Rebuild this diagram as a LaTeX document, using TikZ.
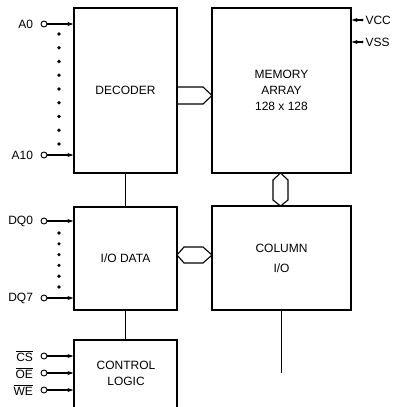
\documentclass[tikz,border=0pt]{standalone}
\usepackage{fontspec}
\setmainfont{Liberation Sans}
\usetikzlibrary{arrows.meta, positioning}

\tikzset{
	blk/.style = {draw, inner sep=0pt, align=center},
	pinc/.style = {draw, circle, inner sep=0pt, minimum size=6pt, line width=0.9pt},
	lbl/.style = {inner sep=0pt},
}

\begin{document}
\begin{tikzpicture}[> = {Stealth[length=6pt, width=4pt]}, x=1pt, y=-1pt, line width=1.1pt,
		font=\fontsize{12}{16}\selectfont]
	\useasboundingbox (0,0) rectangle (394,407);
	
	% blocks
	\node [blk, minimum width=103, minimum height=165] (dec) at (125.5,90.5) {DECODER};
	\node [blk, minimum width=139, minimum height=165] (mem) at (281.5,90.5)
	{MEMORY\\ARRAY\\128 x 128};
	\node [blk, minimum width=103, minimum height=103] (io) at (125.5,258.5) {I/O DATA};
	\node [blk, minimum width=139, minimum height=104] (col) at (281.5,258)
	{COLUMN\\[4pt]I/O};
	
	\draw (74,407) |- (177,340) -- (177,407);
	\node [align=center] (ctl) at (126,373) {CONTROL\\LOGIC};
	\coordinate (ctltop) at (125.5,340);
	\coordinate (colend) at (281.5,373);
	
	\draw (dec.south) -- (io.north);
	\draw (io.south) -- (ctltop);
	\draw (col.south) -- (colend);
	
	% buses
	\draw (177,87) -- (203,87) -- (212,95.5) -- (203,104) -- (177,104);
	\draw (280.5,173) -- (288,180) -- (288,200) -- (280.5,206) -- (273,200) -- (273,180) -- cycle;
	\draw (177,255) -- (184,247) -- (203,247) -- (212,255) -- (203,263) -- (184,263) -- cycle;
	
	% pins
	\foreach \nm/\txt/\y in {a0/A0/24, a10/A10/155, dq0/DQ0/221, dq7/DQ7/298,
		cs/$\overline{\mbox{CS}}$/356, oe/$\overline{\mbox{OE}}$/373, we/$\overline{\mbox{WE}}$/390}{
		\node [pinc] (p\nm) at (44,\y) {};
		\node [lbl, left=7pt of p\nm] {\txt};
		\draw [->] (p\nm) -- (p\nm -| dec.west);
	}
	\foreach \k in {0,...,8} \fill (59,34+13.75*\k) circle [radius=1.8pt];
	\foreach \k in {0,...,5} \fill (59,233+10.8*\k) circle [radius=1.8pt];
	
	\coordinate (vcc) at (362,20);
	\coordinate (vss) at (362,42);
	\foreach \nm/\txt in {vcc/VCC, vss/VSS}{
		\fill (\nm) circle [radius=1.5pt];
		\draw [<-] (\nm -| mem.east) -- (\nm);
		\node [lbl, right=3pt of \nm] {\txt};
	}
\end{tikzpicture}
\end{document}
